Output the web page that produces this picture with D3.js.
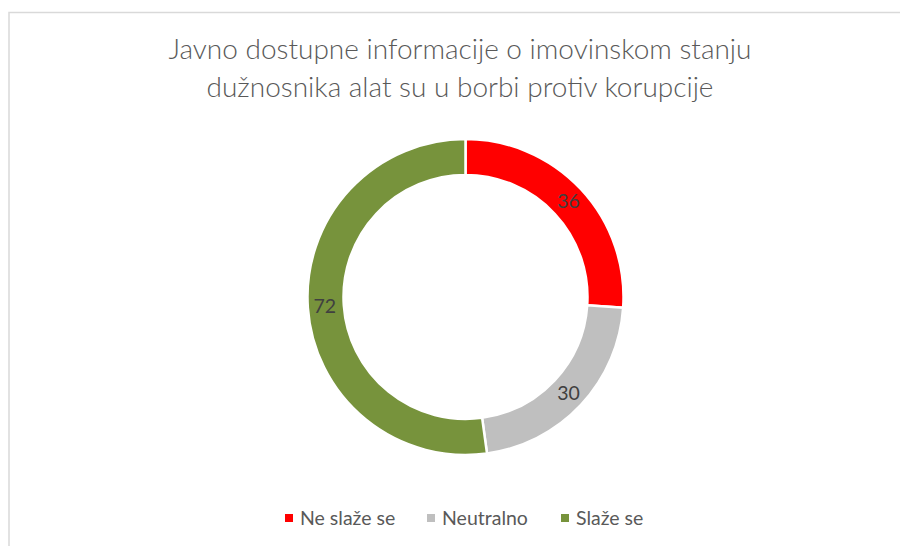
<!DOCTYPE html>
<html>
<head>
<meta charset="utf-8">
<script src="https://cdn.jsdelivr.net/npm/d3@7"></script>
<style>
  body { margin: 0; background: #fff; }
  text { font-family: Lato, "Open Sans", sans-serif; }
</style>
</head>
<body>
<div id="chart"></div>
<script>
const categories = ["Ne slaže se", "Neutralno", "Slaže se"];
const values = [36, 30, 72];
const colors = ["#FF0000", "#BFBFBF", "#77933C"];
const titleLines = [
    "Javno dostupne informacije o imovinskom stanju",
    "dužnosnika alat su u borbi protiv korupcije"
];

const width = 900, height = 546;
const cent = { x: 465.5, y: 297 };
const outerR = 158, innerR = 122;

const svg = d3.select("#chart")
    .append("svg")
    .attr("width", width)
    .attr("height", height);

// chart area border (only top and left visible in the crop)
svg.append("path")
    .attr("d", `M9,${height} V12.5 H${width}`)
    .attr("fill", "none")
    .attr("stroke", "#d9d9d9")
    .attr("stroke-width", 1.5);

// title
svg.append("g")
    .selectAll("text")
    .data(titleLines)
    .join("text")
    .attr("x", 460)
    .attr("y", (d, i) => 59 + i * 38)
    .attr("text-anchor", "middle")
    .attr("font-size", 28)
    .attr("font-weight", 300)
    .attr("fill", "#595959")
    .text(d => d);

const data = categories.map((c, i) => ({ name: c, value: values[i] }));

const pie = d3.pie()
    .sort(null)
    .value(d => d.value);

const arcPath = d3.arc()
    .outerRadius(outerR)
    .innerRadius(innerR);

const labelArc = d3.arc()
    .outerRadius((outerR + innerR) / 2 + 1)
    .innerRadius((outerR + innerR) / 2 + 1);

const color = d3.scaleOrdinal(categories, colors);

const graph = svg.append("g")
    .attr("transform", `translate(${cent.x}, ${cent.y})`);

const arcs = pie(data);

graph.selectAll("path")
    .data(arcs)
    .join("path")
    .attr("d", arcPath)
    .attr("fill", d => color(d.data.name))
    .attr("stroke", "#fff")
    .attr("stroke-width", 2.5);

graph.selectAll("text")
    .data(arcs)
    .join("text")
    .attr("transform", d => `translate(${labelArc.centroid(d)})`)
    .attr("text-anchor", "middle")
    .attr("dy", "0.35em")
    .attr("font-size", 19.5)
    .attr("fill", "#404040")
    .text(d => d.data.value);

// legend
const legendPos = [285, 427, 561];

const legend = svg.append("g")
    .selectAll("g")
    .data(categories)
    .join("g")
    .attr("transform", (d, i) => `translate(${legendPos[i]}, 518)`);

legend.append("rect")
    .attr("x", 0)
    .attr("y", -4)
    .attr("width", 8)
    .attr("height", 8)
    .attr("fill", d => color(d));

legend.append("text")
    .attr("x", 15)
    .attr("dy", "0.35em")
    .attr("font-size", 19.5)
    .attr("fill", "#595959")
    .text(d => d);
</script>
</body>
</html>
